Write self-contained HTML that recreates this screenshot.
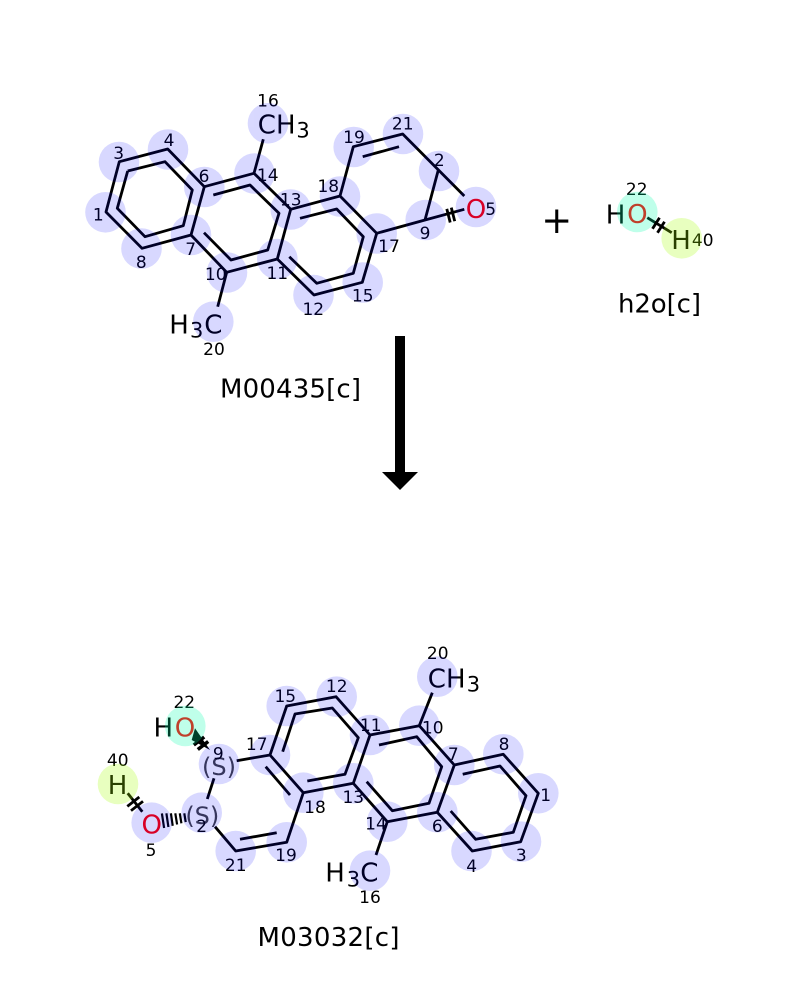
<!DOCTYPE html>
<html>
<head>
<meta charset="utf-8">
<style>
html,body{margin:0;padding:0;background:#fff;width:800px;height:1000px;overflow:hidden}
svg{display:block}
text{font-family:"DejaVu Sans",sans-serif;fill:#000}
.n{font-size:17px;text-anchor:middle}
.a{font-size:26px}
.s{font-size:21px}
.l{font-size:26px}
.b{fill:none;stroke:#000;stroke-width:2.8;stroke-linejoin:round;stroke-linecap:butt}
</style>
</head>
<body>
<svg width="800" height="1000" viewBox="0 0 800 1000" xmlns="http://www.w3.org/2000/svg">
<rect width="800" height="1000" fill="#fff"/>

<!-- top molecule bonds -->
<g class="b">
<polygon points="106,212 119.3,161.7 167.7,149 204.3,186.7 191,235 142,248.3"/>
<polyline points="204.3,186.7 254,173.3 290.7,209.3 277.3,259 226.7,272.3 191,235"/>
<polyline points="290.7,209.3 340,196 376.7,233.3 362.3,282.3 314,295 277.3,259"/>
<polyline points="127.7,171 165,161.7 192.3,190 183.3,225.7 145,236.7 117.3,208.3 127.7,171"/>
<polyline points="213.3,195 250,185 279,213.3 267.7,250 231,260 204,232.7"/>
<polyline points="300,218.3 336.7,209 363.3,236.7 353.3,273.3 316.7,283.3 289.3,256.7"/>
<polyline points="340,196 353.3,146.7 402.7,134 464.3,196"/>
<line x1="362.7" y1="156.7" x2="399" y2="146.7"/>
<polyline points="438.3,170 425,220"/>
<polyline points="376.7,233.3 425,220 464.3,209.3"/>
<line x1="254" y1="173.3" x2="263.3" y2="139.3"/>
<line x1="226.7" y1="272.3" x2="217.7" y2="306.7"/>
<line x1="446.8" y1="208.9" x2="450.2" y2="222.5"/>
<line x1="451.3" y1="207.6" x2="454.7" y2="221.2"/>
</g>

<!-- top molecule atom text -->
<text class="a" x="257.8" y="133.3">CH</text>
<text class="s" x="296.4" y="137.3">3</text>
<text class="a" x="169.2" y="333.3">H</text>
<text class="s" x="190" y="337.7">3</text>
<text class="a" x="204.2" y="333.3">C</text>
<text class="a" x="476" y="218.2" text-anchor="middle" style="fill:#ff0000">O</text>

<g transform="translate(0,0.4)">
<text class="n" x="268" y="106">16</text>
<text class="n" x="118.7" y="158.5">3</text>
<text class="n" x="169" y="145.8">4</text>
<text class="n" x="204" y="181.8">6</text>
<text class="n" x="267.7" y="180.8">14</text>
<text class="n" x="290.7" y="205">13</text>
<text class="n" x="98.3" y="220">1</text>
<text class="n" x="141.3" y="267.8">8</text>
<text class="n" x="190.7" y="254.8">7</text>
<text class="n" x="215.7" y="279.8">10</text>
<text class="n" x="277.3" y="278.5">11</text>
<text class="n" x="214" y="354.8">20</text>
<text class="n" x="354" y="142.5">19</text>
<text class="n" x="402.7" y="129">21</text>
<text class="n" x="439.3" y="165.8">2</text>
<text class="n" x="328.3" y="191.8">18</text>
<text class="n" x="389" y="251.8">17</text>
<text class="n" x="425" y="238.5">9</text>
<text class="n" x="490.7" y="214.5">5</text>
<text class="n" x="362.7" y="301">15</text>
<text class="n" x="313.3" y="314.5">12</text>
</g>

<!-- h2o -->
<g class="b">
<line x1="647.3" y1="217.7" x2="671.7" y2="232.7"/>
<line x1="659.5" y1="217.8" x2="652.5" y2="228.8"/>
<line x1="664.5" y1="221.8" x2="657.5" y2="232.8"/>
</g>
<text class="a" x="605.8" y="223.3">H</text>
<text class="a" x="637.3" y="223" text-anchor="middle" style="fill:#ff0000">O</text>
<text class="a" x="681" y="249" text-anchor="middle">H</text>
<text class="n" x="636.7" y="195.2">22</text>
<text class="n" x="702.7" y="246.2">40</text>
<text x="556.7" y="233" text-anchor="middle" style="font-size:37px">+</text>
<text class="l" x="618" y="312.7" textLength="83" lengthAdjust="spacing">h2o[c]</text>
<text class="l" x="220" y="397.7" textLength="141" lengthAdjust="spacing">M00435[c]</text>

<!-- arrow -->
<rect x="395" y="336" width="10" height="137" fill="#000"/>
<polygon points="382,472 418,472 400,490" fill="#000"/>

<!-- bottom molecule bonds -->
<g class="b">
<polyline points="303.3,792.7 270,755 286.7,706 336,696.7 370,735 353.3,783.3 303.3,792.7 286.7,842.3 235.7,851 215,826.7"/>
<polyline points="282.7,751.7 295,714 332.3,708 358.3,737.7 345,774.3 307.3,781"/>
<line x1="265.7" y1="766.7" x2="290" y2="795"/>
<line x1="240" y1="839.3" x2="276.7" y2="832.7"/>
<line x1="236.7" y1="760.7" x2="270" y2="755"/>
<line x1="207.3" y1="799" x2="214" y2="778.3"/>
<polyline points="370,735 419.3,725.7 454.3,765 437.3,812.3 387.3,821.7 353.3,783.3"/>
<polyline points="379,745 416.7,736.7 441.7,766.7 429,803.3 392.3,810.7 366.7,781.7"/>
<polyline points="454.3,765 503.3,754.3 538.3,793.3 520.7,841.7 472.3,851 437.3,812.3"/>
<polyline points="462.7,774.3 500,766 526,795.7 513.3,832.3 475.7,839.3 450.7,811"/>
<line x1="419.3" y1="725.7" x2="432.3" y2="692.7"/>
<line x1="387.3" y1="821.7" x2="376" y2="855"/>
<line x1="127.7" y1="793.3" x2="142.3" y2="811.7"/>
<line x1="127.3" y1="806.4" x2="139.3" y2="797"/>
<line x1="131" y1="810.7" x2="143" y2="801.3"/>
</g>
<!-- wedge + ticks -->
<polygon points="195,728.3 191.7,740 210,750" fill="#000"/>
<g class="b" style="stroke-width:3.6">
<line x1="193.8" y1="745" x2="204.2" y2="737"/>
<line x1="197.8" y1="749.5" x2="208.2" y2="741.5"/>
</g>
<!-- hash -->
<g stroke="#000" stroke-width="2.2">
<line x1="161.9" y1="813.4" x2="164.1" y2="828"/>
<line x1="166.4" y1="813.3" x2="168.4" y2="827"/>
<line x1="170.9" y1="813.3" x2="172.7" y2="825.8"/>
<line x1="175.3" y1="813.3" x2="177.1" y2="824.5"/>
<line x1="179.8" y1="813.3" x2="181.4" y2="823.3"/>
<line x1="184.3" y1="813.3" x2="185.7" y2="822.1"/>
</g>

<!-- bottom text -->
<text class="a" x="427.8" y="687.7">CH</text>
<text class="s" x="466.7" y="691.7">3</text>
<text class="a" x="325.2" y="881.7">H</text>
<text class="s" x="346.7" y="886.7">3</text>
<text class="a" x="360.2" y="881.7">C</text>
<text class="a" x="153.5" y="736.7">H</text>
<text class="a" x="185" y="736.7" text-anchor="middle" style="fill:#ff0000">O</text>
<text class="a" x="117.5" y="794" text-anchor="middle">H</text>
<text class="a" x="151.7" y="833.3" text-anchor="middle" style="fill:#ff0000">O</text>
<text x="219" y="775" text-anchor="middle" style="font-size:24px;fill:#404040">(S)</text>
<text x="202.3" y="824" text-anchor="middle" style="font-size:24px;fill:#404040">(S)</text>

<g transform="translate(0,0.4)">
<text class="n" x="184.3" y="707.5">22</text>
<text class="n" x="117.7" y="765.8">40</text>
<text class="n" x="151" y="855.8">5</text>
<text class="n" x="218.3" y="759">9</text>
<text class="n" x="201.7" y="831.8">2</text>
<text class="n" x="256.7" y="749.8">17</text>
<text class="n" x="285.3" y="701.8">15</text>
<text class="n" x="235.7" y="870.8">21</text>
<text class="n" x="286" y="860.8">19</text>
<text class="n" x="315" y="812.5">18</text>
<text class="n" x="353.3" y="802.5">13</text>
<text class="n" x="336.7" y="691.8">12</text>
<text class="n" x="370.7" y="730.8">11</text>
<text class="n" x="432.7" y="733">10</text>
<text class="n" x="437.7" y="658.5">20</text>
<text class="n" x="453.3" y="759.8">7</text>
<text class="n" x="504" y="749.8">8</text>
<text class="n" x="545.7" y="800.8">1</text>
<text class="n" x="521.3" y="860.8">3</text>
<text class="n" x="471.7" y="871.5">4</text>
<text class="n" x="437.3" y="831.8">6</text>
<text class="n" x="376" y="829">14</text>
<text class="n" x="370" y="902.5">16</text>
</g>
<text class="l" x="257.5" y="946" textLength="142" lengthAdjust="spacing">M03032[c]</text>

<!-- highlight overlays -->
<g opacity="0.15" fill="#0000ff">
<circle cx="105.5" cy="212.3" r="20.3"/>
<circle cx="119" cy="162" r="20.3"/>
<circle cx="168" cy="149.5" r="20.3"/>
<circle cx="204.3" cy="187" r="20.3"/>
<circle cx="191" cy="235" r="20.3"/>
<circle cx="141.5" cy="248.5" r="20.3"/>
<circle cx="254.5" cy="173.5" r="20.3"/>
<circle cx="290.7" cy="209.5" r="20.3"/>
<circle cx="277.3" cy="259" r="20.3"/>
<circle cx="227" cy="272.5" r="20.3"/>
<circle cx="268" cy="123.3" r="20.3"/>
<circle cx="213.3" cy="321.7" r="20.3"/>
<circle cx="340" cy="196.5" r="20.3"/>
<circle cx="376.7" cy="233.5" r="20.3"/>
<circle cx="362.7" cy="282.5" r="20.3"/>
<circle cx="313.5" cy="295" r="20.3"/>
<circle cx="353.7" cy="147" r="20.3"/>
<circle cx="403" cy="134" r="20.3"/>
<circle cx="439" cy="171" r="20.3"/>
<circle cx="425.7" cy="220" r="20.3"/>
<circle cx="476" cy="207" r="20.3"/>
</g>
<g opacity="0.25" fill="#00ffaa"><circle cx="637.3" cy="212" r="20.3"/></g>
<g opacity="0.25" fill="#a2ff00"><circle cx="681.7" cy="238.3" r="20.3"/></g>

<g opacity="0.15" fill="#0000ff">
<circle cx="286.7" cy="706" r="20.3"/>
<circle cx="270" cy="755" r="20.3"/>
<circle cx="303.3" cy="792.7" r="20.3"/>
<circle cx="286.7" cy="842.3" r="20.3"/>
<circle cx="235.7" cy="851" r="20.3"/>
<circle cx="219" cy="764" r="20.3"/>
<circle cx="201.7" cy="812.7" r="20.3"/>
<circle cx="151.7" cy="822.7" r="20.3"/>
<circle cx="336.7" cy="696.7" r="20.3"/>
<circle cx="370" cy="735" r="20.3"/>
<circle cx="353.3" cy="783.3" r="20.3"/>
<circle cx="419.3" cy="725.7" r="20.3"/>
<circle cx="454.3" cy="765" r="20.3"/>
<circle cx="437.3" cy="812.3" r="20.3"/>
<circle cx="387.3" cy="821.7" r="20.3"/>
<circle cx="503.3" cy="754.3" r="20.3"/>
<circle cx="538.3" cy="793.3" r="20.3"/>
<circle cx="521" cy="841.7" r="20.3"/>
<circle cx="471.5" cy="851" r="20.3"/>
<circle cx="437.3" cy="676.7" r="20.3"/>
<circle cx="370" cy="870.7" r="20.3"/>
</g>
<g opacity="0.25" fill="#00ffaa"><circle cx="185.3" cy="726" r="20.3"/></g>
<g opacity="0.25" fill="#a2ff00"><circle cx="118" cy="784" r="20.3"/></g>
</svg>
</body>
</html>
